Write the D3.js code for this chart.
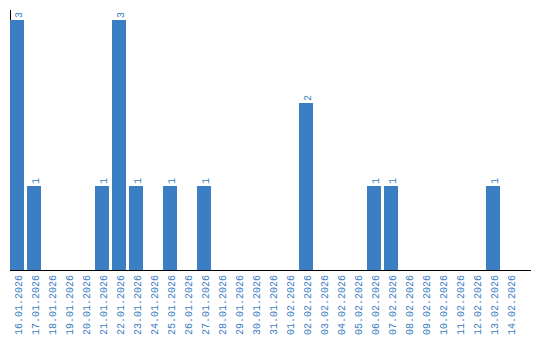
<!DOCTYPE html>
<html><head><meta charset="utf-8">
<script src="https://cdn.jsdelivr.net/npm/d3@7"></script>
<style>html,body{margin:0;padding:0;background:#fff;}</style>
</head><body>
<script>
const dates = ["16.01.2026","17.01.2026","18.01.2026","19.01.2026","20.01.2026","21.01.2026","22.01.2026","23.01.2026","24.01.2026","25.01.2026","26.01.2026","27.01.2026","28.01.2026","29.01.2026","30.01.2026","31.01.2026","01.02.2026","02.02.2026","03.02.2026","04.02.2026","05.02.2026","06.02.2026","07.02.2026","08.02.2026","09.02.2026","10.02.2026","11.02.2026","12.02.2026","13.02.2026","14.02.2026"];
const counts = [3,1,0,0,0,1,3,1,0,1,0,1,0,0,0,0,0,2,0,0,0,1,1,0,0,0,0,0,1,0];

const W = 540, H = 340;
const mLeft = 10, mRight = 520, axisEnd = 531, mTop = 10, mBottom = 270;
const barColor = "#3b7ec3", textColor = "#3b7ec3";

const svg = d3.select("body").append("svg").attr("width", W).attr("height", H);
const x = d3.scaleBand().domain(dates).range([mLeft, mRight]).padding(0);
const y = d3.scaleLinear().domain([0, 3]).range([mBottom - 1, 20]);
const gap = 3;
const data = dates.map((d, i) => ({date: d, v: counts[i]}));

svg.append("line").attr("x1", mLeft + 0.5).attr("x2", mLeft + 0.5).attr("y1", mTop).attr("y2", mBottom)
  .attr("stroke", "#000").attr("stroke-width", 1);

svg.selectAll("rect.bar").data(data.filter(d => d.v > 0)).join("rect")
  .attr("x", d => x(d.date)).attr("width", x.bandwidth() - gap)
  .attr("y", d => y(d.v)).attr("height", d => y(0) - y(d.v) + 1)
  .attr("fill", barColor);

svg.selectAll("text.val").data(data.filter(d => d.v > 0)).join("text")
  .attr("transform", d => `translate(${x(d.date) + (x.bandwidth() - gap) / 2 + 4.5},${y(d.v) - 2}) rotate(-90)`)
  .attr("font-family", "Liberation Mono").attr("font-size", 10)
  .attr("fill", textColor).text(d => d.v);

svg.selectAll("text.lab").data(data).join("text")
  .attr("transform", d => `translate(${x(d.date) + (x.bandwidth() - gap) / 2 + 5}, ${mBottom + 5}) rotate(-90)`)
  .attr("text-anchor", "end")
  .attr("font-family", "Liberation Mono").attr("font-size", 10)
  .attr("fill", textColor).text(d => d.date);

svg.append("line").attr("x1", mLeft).attr("x2", axisEnd).attr("y1", mBottom + 0.5).attr("y2", mBottom + 0.5)
  .attr("stroke", "#000").attr("stroke-width", 1);
</script>
</body></html>
